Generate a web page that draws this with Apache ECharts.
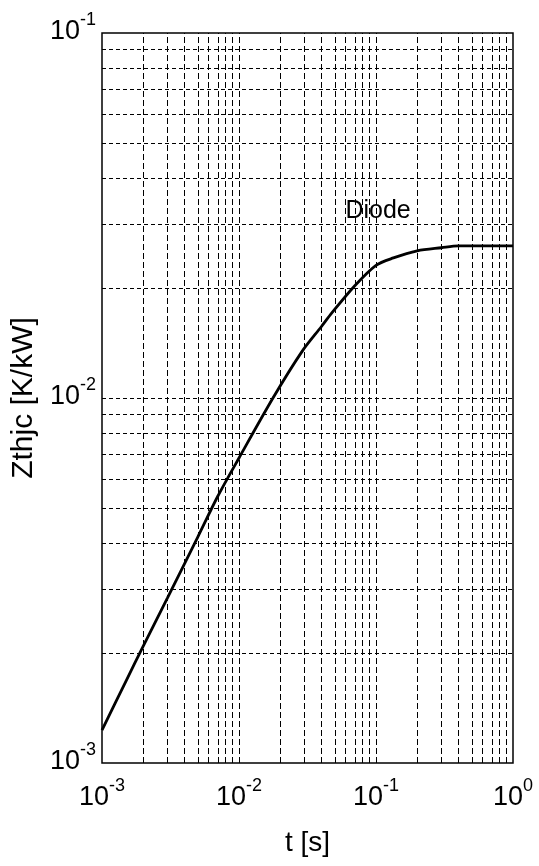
<!DOCTYPE html>
<html>
<head>
<meta charset="utf-8">
<script src="https://cdn.jsdelivr.net/npm/echarts@6/dist/echarts.min.js"></script>
<style>
html,body{margin:0;padding:0;background:#fff;}
#chart{width:539px;height:866px;}
</style>
</head>
<body>
<div id="chart"></div>
<script>
// ---- data ----
const tValues   = [0.001, 0.0015, 0.002, 0.003, 0.005, 0.007, 0.01, 0.0177, 0.0288, 0.04, 0.0476, 0.07, 0.1, 0.134, 0.2, 0.3, 0.4, 0.6, 1.0];
const zthValues = [0.00123, 0.00168, 0.00209, 0.00283, 0.00416, 0.00538, 0.00685, 0.0100, 0.0134, 0.0157, 0.0171, 0.0203, 0.0231, 0.0242, 0.0253, 0.0258, 0.0261, 0.0261, 0.0261];
const seriesName = 'Diode';
const labelPoint = [0.1035, 0.0325];
const xTickExponents = [-3, -2, -1, 0];
const yTickExponents = [-3, -2, -1];
const xAxisTitle = 't [s]';
const yAxisTitle = 'Zthjc [K/kW]';
const gridMantissas = [1, 2, 3, 4, 5, 6, 7, 8, 9];

const FONT = '"Liberation Sans", Arial, sans-serif';

const xMin = Math.pow(10, xTickExponents[0]);
const xMax = Math.pow(10, xTickExponents[xTickExponents.length - 1]);
const yMin = Math.pow(10, yTickExponents[0]);
const yMax = Math.pow(10, yTickExponents[yTickExponents.length - 1]);

// grid-line values at 1..9 x each decade (inside the axis range)
function gridValues(exps) {
  const out = [];
  for (let i = 0; i < exps.length - 1; i++) {
    for (const m of gridMantissas) {
      if (i === 0 && m === 1) continue;
      out.push(m * Math.pow(10, exps[i]));
    }
  }
  return out;
}
const xGrid = gridValues(xTickExponents);
const yGrid = gridValues(yTickExponents);

function expLabel(v) {
  const e = Math.round(Math.log10(v));
  return '{b|10}{s|' + e + '}';
}
const rich = {
  b: {fontSize: 27, fontFamily: FONT, color: '#000', verticalAlign: 'bottom', lineHeight: 34},
  s: {fontSize: 18, fontFamily: FONT, color: '#000', verticalAlign: 'top', lineHeight: 18}
};

const chart = echarts.init(document.getElementById('chart'), null, {renderer: 'canvas'});
const data = tValues.map((t, i) => [t, zthValues[i]]);

chart.setOption({
  animation: false,
  backgroundColor: '#fff',
  grid: {left: 102, top: 33, width: 411, height: 730, show: true, borderColor: '#000', borderWidth: 1.5, backgroundColor: 'transparent'},
  xAxis: {
    type: 'log', logBase: 10, min: xMin, max: xMax,
    name: xAxisTitle, nameLocation: 'middle', nameGap: 66,
    nameTextStyle: {fontSize: 28, fontFamily: FONT, color: '#000'},
    axisLine: {show: false}, axisTick: {show: false}, splitLine: {show: false},
    axisLabel: {formatter: expLabel, rich: rich, margin: 14, showMinLabel: true, showMaxLabel: true}
  },
  yAxis: {
    type: 'log', logBase: 10, min: yMin, max: yMax,
    name: yAxisTitle, nameLocation: 'middle', nameGap: 61, nameRotate: 90,
    nameTextStyle: {fontSize: 30, fontFamily: FONT, color: '#000'},
    axisLine: {show: false}, axisTick: {show: false}, splitLine: {show: false},
    axisLabel: {formatter: expLabel, rich: rich, margin: 6, padding: [0, 0, 10, 0], showMinLabel: true, showMaxLabel: true}
  },
  series: [
    {
      type: 'line', name: 'xgrid', data: [], silent: true,
      markLine: {
        silent: true, symbol: ['none', 'none'], label: {show: false}, animation: false,
        lineStyle: {color: '#000', type: [6, 3], width: 1},
        data: xGrid.map(v => [{coord: [v, yMin]}, {coord: [v, yMax]}])
      }
    },
    {
      type: 'line', name: 'ygrid', data: [], silent: true,
      markLine: {
        silent: true, symbol: ['none', 'none'], label: {show: false}, animation: false,
        lineStyle: {color: '#000', type: [4, 3], width: 1},
        data: yGrid.map(v => [{coord: [xMin, v]}, {coord: [xMax, v]}])
      }
    },
    {
      type: 'line', name: seriesName, data: data, showSymbol: false, smooth: 0.3,
      lineStyle: {color: '#000', width: 2.8},
      markPoint: {
        symbolSize: 0, silent: true,
        data: [{coord: labelPoint, label: {show: true, formatter: seriesName, fontSize: 25, fontFamily: FONT, color: '#000', position: 'inside'}}]
      }
    }
  ]
});
</script>
</body>
</html>
